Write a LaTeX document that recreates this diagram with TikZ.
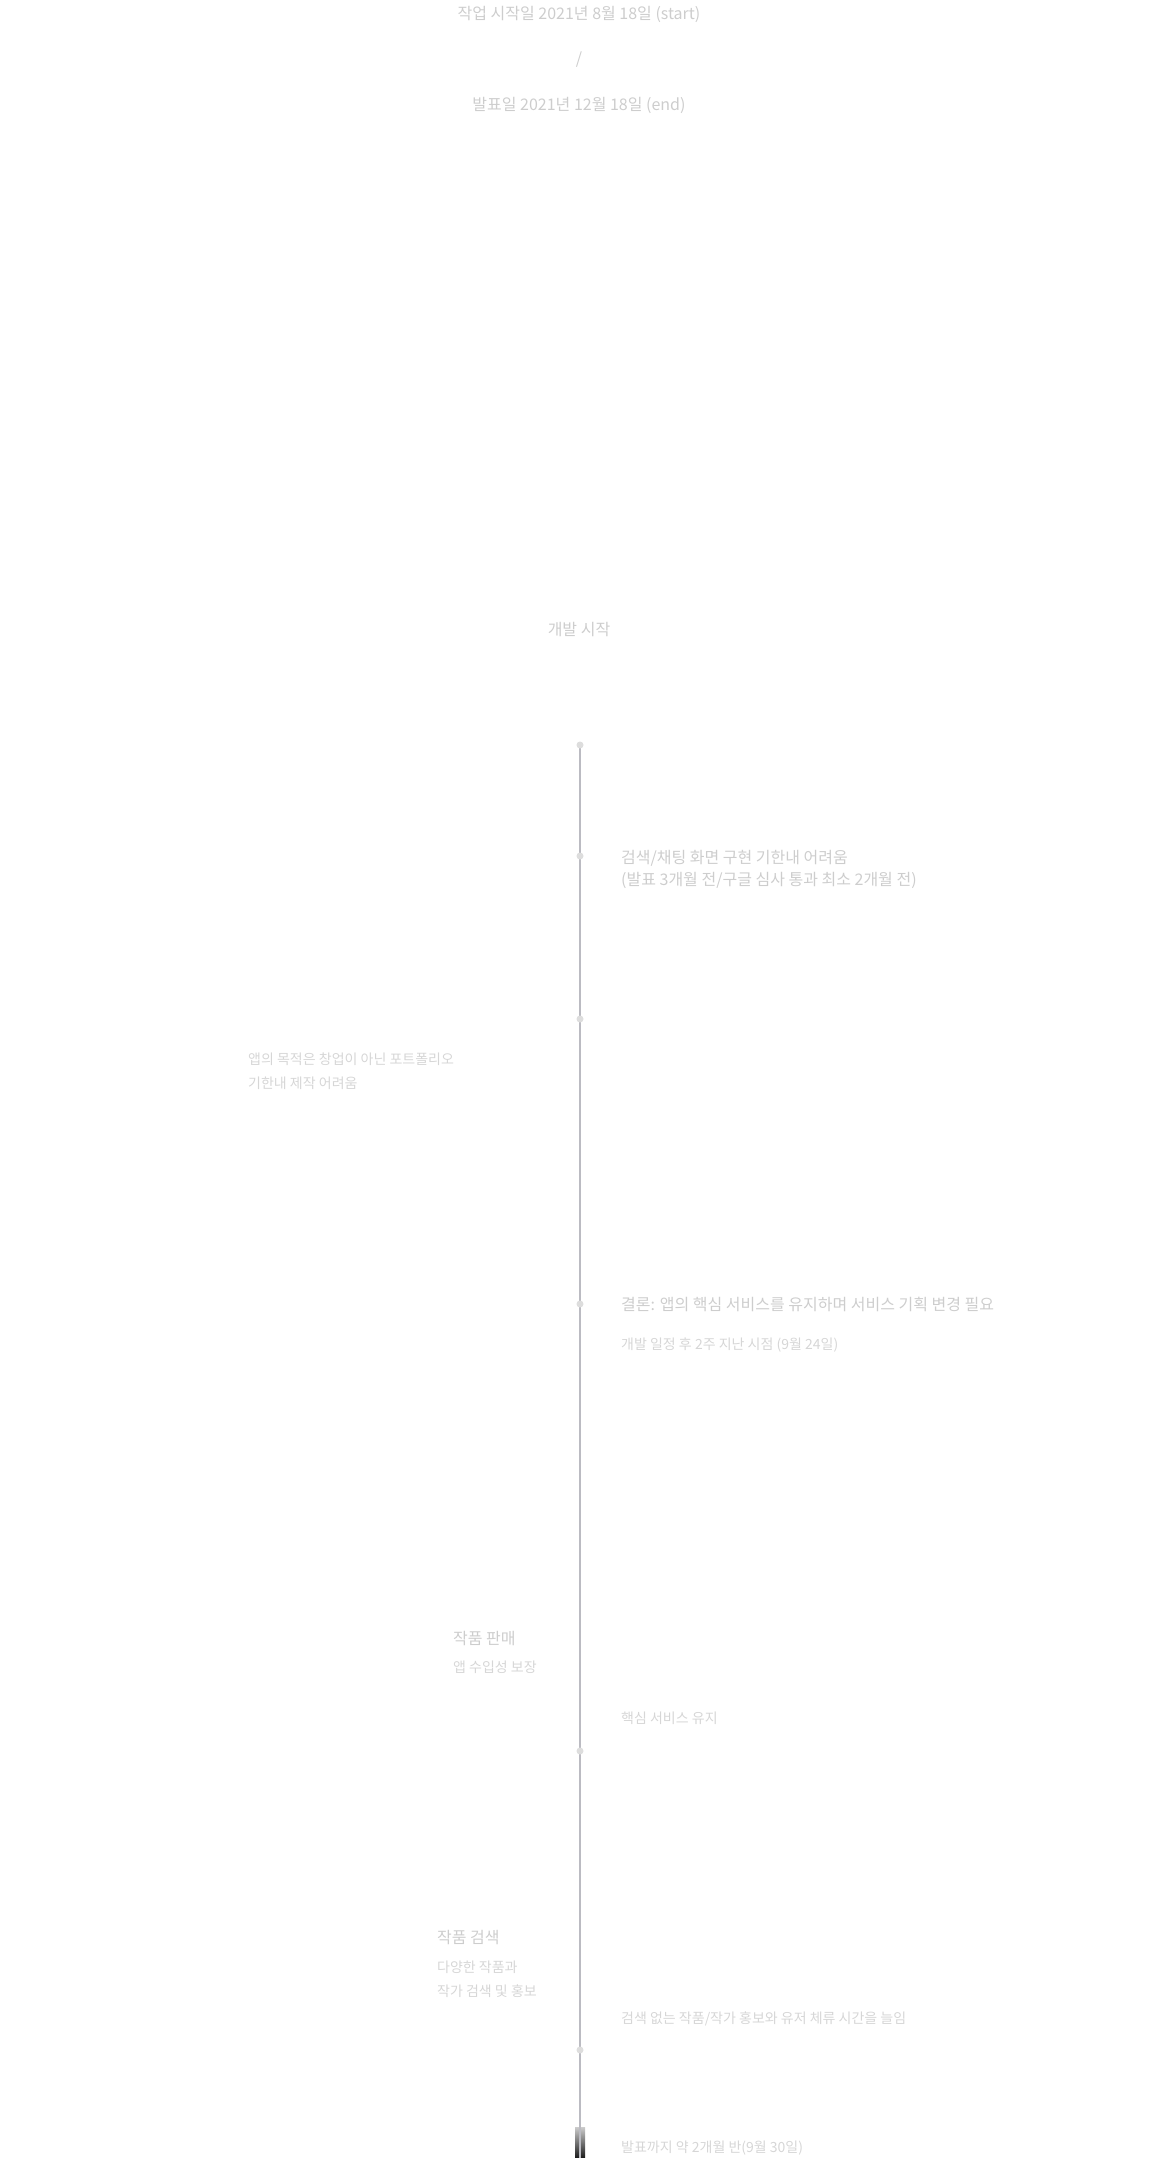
\documentclass[tikz,border=0pt]{standalone}
\usepackage{fontspec}
\setmainfont{Noto Sans CJK KR}
\usepackage{tikz}
\usetikzlibrary{backgrounds}
\definecolor{linegray}{HTML}{BBBBC2}
\definecolor{beadgray}{HTML}{DDDDDD}
\definecolor{headgray}{HTML}{CDCDCD}
\definecolor{notegray}{HTML}{D6D6D6}
\newcommand{\axisx}{580}
\newcommand{\textx}{621}

\begin{document}
\begin{tikzpicture}[x=1pt,y=-1pt,
  bead/.style={fill=beadgray,circle,inner sep=0pt,minimum size=7pt},
  head/.style={text=headgray,inner sep=0pt,font=\fontsize{16}{19}\selectfont},
  note/.style={text=notegray,inner sep=0pt,font=\fontsize{14}{17}\selectfont}]
\useasboundingbox (0,0) rectangle (1158,2158);
%dates
\node[head] (start) at (579,14) {작업 시작일 2021년 8월 18일 (start)};
\node[head] (slash) at (579,60) {/};
\node[head] (end) at (579,105) {발표일 2021년 12월 18일 (end)};
\node[head] (dev) at (579,630) {개발 시작};
%timeline
\node[bead] (1) at (\axisx,745) {};
\node[bead] (2) at (\axisx,856) {};
\node[bead] (3) at (\axisx,1019) {};
\node[bead] (4) at (\axisx,1304) {};
\node[bead] (5) at (\axisx,1751) {};
\node[bead] (6) at (\axisx,2050) {};
\coordinate (7) at (\axisx,2158);
\begin{scope}[on background layer]
\shade[top color=black!20,bottom color=black!90] (575,2127) rectangle (585,2158);
\draw[linegray,line width=2pt] (1.center) -- (7);
\end{scope}
%right
\node[head,anchor=west] (a1) at (\textx,858) {검색/채팅 화면 구현 기한내 어려움};
\node[head,anchor=west] (a2) at (\textx,880) {(발표 3개월 전/구글 심사 통과 최소 2개월 전)};
\node[head,anchor=west] (b1) at (\textx,1304) {결론: 앱의 핵심 서비스를 유지하며 서비스 기획 변경 필요};
\node[note,anchor=west] (b2) at (\textx,1345) {개발 일정 후 2주 지난 시점 (9월 24일)};
\node[note,anchor=west] (c1) at (\textx,1718) {핵심 서비스 유지};
\node[note,anchor=west] (d1) at (\textx,2019) {검색 없는 작품/작가 홍보와 유저 체류 시간을 늘임};
\node[note,anchor=west] (e1) at (\textx,2148) {발표까지 약 2개월 반(9월 30일)};
%left
\node[note,anchor=west] (f1) at (248,1059) {앱의 목적은 창업이 아닌 포트폴리오};
\node[note,anchor=west] (f2) at (248,1083) {기한내 제작 어려움};
\node[head,anchor=west] (g1) at (453,1638) {작품 판매};
\node[note,anchor=west] (g2) at (453,1667) {앱 수입성 보장};
\node[head,anchor=west] (h1) at (437,1937) {작품 검색};
\node[note,anchor=west] (h2) at (437,1967) {다양한 작품과};
\node[note,anchor=west] (h3) at (437,1991) {작가 검색 및 홍보};
\end{tikzpicture}
\end{document}
